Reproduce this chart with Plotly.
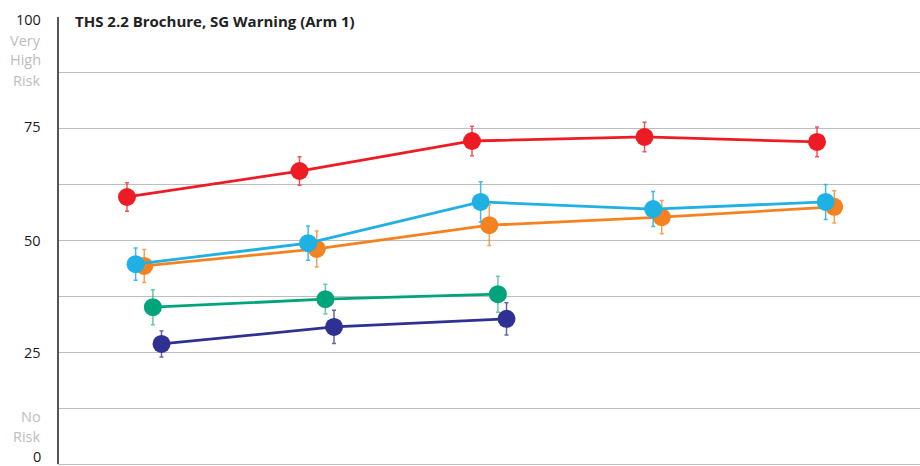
import plotly.graph_objects as go

# Survey waves (x index) and mean perceived-risk scores with 95% CI half-widths
waves = [0, 1, 2, 3, 4]

series_names = ["Cigarettes", "THS 2.2 (HeatSticks)", "E-cigarettes", "Nicotine gum", "Nicotine-free e-cig"]

red_vals = [59.6, 65.4, 72.1, 73.0, 71.9]
red_err = [3.2, 3.2, 3.3, 3.3, 3.3]

orange_vals = [44.2, 48.0, 53.3, 55.1, 57.4]
orange_err = [3.7, 4.0, 4.5, 3.7, 3.6]

cyan_vals = [44.6, 49.3, 58.5, 56.9, 58.5]
cyan_err = [3.6, 3.8, 4.5, 3.9, 3.9]

green_vals = [35.0, 36.8, 37.9]
green_err = [3.9, 3.3, 4.0]

navy_vals = [26.8, 30.6, 32.4]
navy_err = [2.9, 3.7, 3.6]

title_text = "THS 2.2 Brochure, SG Warning (Arm 1)"
tick_values = [100, 75, 50, 25, 0]

# Horizontal dodge per series so overlapping points stay visible
styles = [
    (red_vals, red_err, "#ED1C24", "rgba(237,28,36,0.75)", 0.0),
    (orange_vals, orange_err, "#F58220", "rgba(245,130,32,0.75)", 0.10),
    (cyan_vals, cyan_err, "#1FB0E4", "rgba(31,176,228,0.85)", 0.05),
    (green_vals, green_err, "#00A47A", "rgba(0,164,122,0.6)", 0.15),
    (navy_vals, navy_err, "#2E3192", "rgba(46,49,146,0.75)", 0.20),
]

fig = go.Figure()

for name, (vals, errs, col, ecol, dx) in zip(series_names, styles):
    xs = [w + dx for w in waves[: len(vals)]]
    fig.add_trace(go.Scatter(
        x=xs, y=vals, name=name, mode="lines+markers",
        line=dict(color=col, width=2.8),
        marker=dict(color=col, size=18),
        error_y=dict(type="data", array=errs, visible=True,
                     color=ecol, thickness=1.5, width=2),
        hoverinfo="skip",
    ))

PLOT_L, PLOT_T, PLOT_W, PLOT_H = 58, 16, 862, 448


def py_to_paper(py):
    return (PLOT_T + PLOT_H - py) / PLOT_H


def px_to_paper(px):
    return (px - PLOT_L) / PLOT_W


font_family = "Open Sans, Lato, sans-serif"
annotations = []

# Numeric axis labels
num_label_y = {100: 20, 75: 126, 50: 240, 25: 352, 0: 456}
for v in tick_values:
    annotations.append(dict(
        text=str(v), xref="paper", yref="paper",
        x=px_to_paper(43), y=py_to_paper(num_label_y[v]),
        xanchor="right", yanchor="middle", showarrow=False,
        font=dict(family=font_family, size=14.5, color="#1a1a1a"),
    ))

# Verbal anchors of the risk scale
anchor_words = [("Very", 40), ("High", 60), ("Risk", 80), ("No", 416), ("Risk", 436)]
for word, yy in anchor_words:
    annotations.append(dict(
        text=word, xref="paper", yref="paper",
        x=px_to_paper(43), y=py_to_paper(yy),
        xanchor="right", yanchor="middle", showarrow=False,
        font=dict(family=font_family, size=14.5, color="#BDBDBD"),
    ))

annotations.append(dict(
    text="<b>" + title_text + "</b>", xref="paper", yref="paper",
    x=px_to_paper(73), y=py_to_paper(21),
    xanchor="left", yanchor="middle", showarrow=False,
    font=dict(family=font_family, size=15, color="#222222"),
))

fig.update_layout(
    width=920, height=466,
    margin=dict(l=PLOT_L, r=0, t=PLOT_T, b=466 - PLOT_T - PLOT_H, pad=0),
    paper_bgcolor="white", plot_bgcolor="white",
    showlegend=False,
    annotations=annotations,
    xaxis=dict(range=[-0.4, 4.597], showgrid=False, zeroline=False,
               showticklabels=False, ticks="", showline=False, fixedrange=True),
    yaxis=dict(range=[0, 100], tickvals=[12.5, 25, 37.5, 50, 62.5, 75, 87.5],
               showgrid=True, gridcolor="#BDBDBD", gridwidth=1,
               zeroline=True, zerolinecolor="#BDBDBD", zerolinewidth=1,
               showticklabels=False, ticks="", showline=False, fixedrange=True),
    shapes=[dict(type="line", xref="paper", yref="paper",
                 x0=0, x1=0, y0=0, y1=py_to_paper(17),
                 line=dict(color="#555555", width=2))],
)

fig.write_html("out.html")
